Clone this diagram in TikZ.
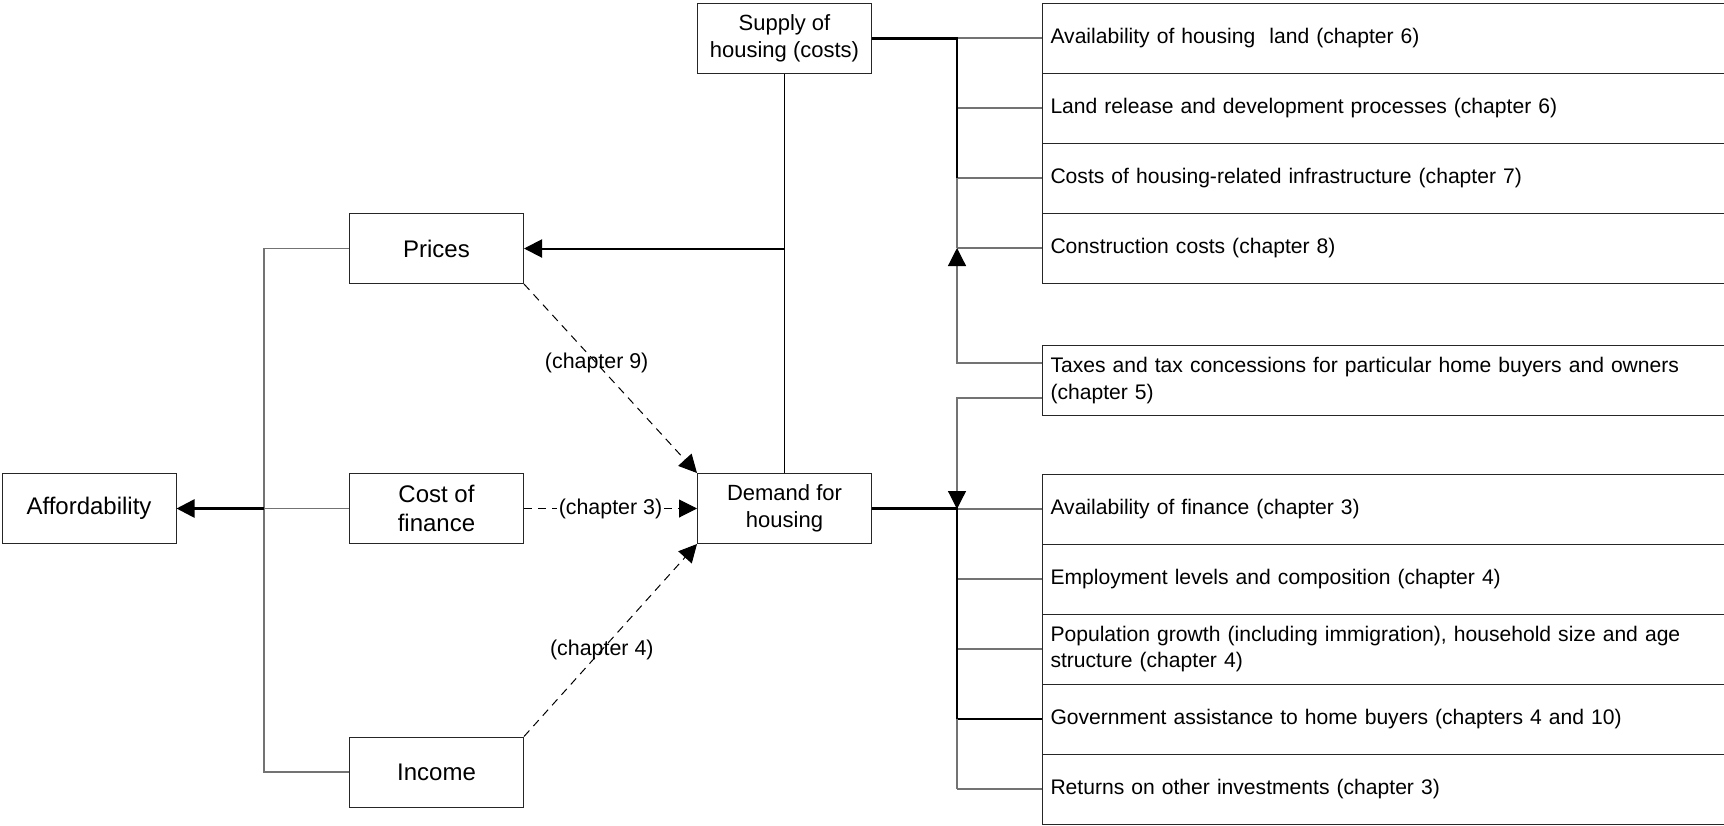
\documentclass[tikz,border=0pt]{standalone}
\usepackage{fontspec}
\setmainfont{Liberation Sans}
\usetikzlibrary{arrows.meta}
\usetikzlibrary{positioning}
\tikzset{box/.style = {draw=black!85, line width=0.5pt, minimum width=87pt, minimum height=35pt, inner sep=2pt, align=center, font=\fontsize{12}{14.5}\selectfont}}
\tikzset{hbox/.style = {box, font=\fontsize{11}{13.7}\selectfont}}
\tikzset{factor/.style = {draw=black!85, line width=0.5pt, anchor=west, minimum width=345pt, minimum height=35pt, text width=337pt, align=left, inner xsep=4pt, font=\fontsize{10.55}{13.4}\selectfont}}
\tikzset{link/.style = {draw=black!55, line width=0.6pt}}
\tikzset{bus/.style = {line width=1.3pt}}
\tikzset{tip/.style = {-{Triangle[length=9pt,width=9pt,color=black]}}}
\tikzset{flow/.style = {dash pattern=on 4pt off 3pt, line width=0.5pt, tip}}
\tikzset{lbl/.style = {inner sep=1pt, font=\fontsize{10.7}{13}\selectfont}}

\begin{document}
\begin{tikzpicture}[x=0.5pt,y=-0.5pt]
        \useasboundingbox (0,0) rectangle (1724,825);
        % main boxes
        \node[box] (afford) at (89,508.5) {Affordability};
        \node[box] (prices) at (436.5,248.5) {Prices};
        \node[box] (cost) at (436.5,508.5) {Cost of\\finance};
        \node[box] (income) at (436.5,772) {Income};
        \node[hbox] (supply) at (784.5,38.5) {Supply of\\housing (costs)};
        \node[hbox] (demand) at (784.5,508.5) {Demand for\\housing};
        % factors
        \node[factor] (land) at (1042,38) {Availability of housing\ \ land (chapter 6)};
        \node[factor] (release) at (1042,108) {Land release and development processes (chapter 6)};
        \node[factor] (infra) at (1042,178) {Costs of housing-related infrastructure (chapter 7)};
        \node[factor] (build) at (1042,248) {Construction costs (chapter 8)};
        \node[factor] (taxes) at (1042,380.5) {Taxes and tax concessions for particular home buyers and owners\\(chapter 5)};
        \node[factor] (finavail) at (1042,509) {Availability of finance (chapter 3)};
        \node[factor] (employ) at (1042,579) {Employment levels and composition (chapter 4)};
        \node[factor] (popul) at (1042,649) {Population growth (including immigration), household size and age\\structure (chapter 4)};
        \node[factor] (govt) at (1042,719) {Government assistance to home buyers (chapters 4 and 10)};
        \node[factor] (returns) at (1042,789) {Returns on other investments (chapter 3)};
        \coordinate (rbus) at (957,0);
        \coordinate (lbus) at (264,0);
        % supply side
        \foreach \f in {land,release,infra,build}
            \draw[link] (\f.west -| rbus) -- (\f.west);
        \draw[link] (infra.west -| rbus) -- (build.west -| rbus);
        \draw[bus] (supply.east) -- (supply.east -| rbus) -- (infra.west -| rbus);
        \draw[link,tip] ([yshift=8.75pt]taxes.west) -| (build.west -| rbus);
        \draw[link,tip] ([yshift=-8.75pt]taxes.west) -| (finavail.west -| rbus);
        % demand side
        \foreach \f in {finavail,employ,popul,returns}
            \draw[link] (\f.west -| rbus) -- (\f.west);
        \draw[line width=0.6pt] (govt.west -| rbus) -- (govt.west);
        \draw[link] (govt.west -| rbus) -- (returns.west -| rbus);
        \draw[bus] (demand.east) -- (demand.east -| rbus) -- (govt.west -| rbus);
        % affordability
        \draw[link] (prices.west) -| (lbus |- income.west) -- (income.west);
        \draw[link] (cost.west) -- (cost.west -| lbus);
        \draw[bus,tip] (cost.west -| lbus) -- (afford.east);
        \draw[line width=0.6pt] (supply.south) -- (demand.north);
        \draw[line width=1pt,tip] (supply.south |- prices.east) -- (prices.east);
        % chapters
        \draw[flow] (prices.south east) -- node[lbl,pos=0.42] {(chapter 9)} (demand.north west);
        \draw[flow] (cost.east) -- node[lbl,fill=white] {(chapter 3)} (demand.west);
        \draw[flow] (income.north east) -- node[lbl,pos=0.45] {(chapter 4)} (demand.south west);
    \end{tikzpicture}
\end{document}
